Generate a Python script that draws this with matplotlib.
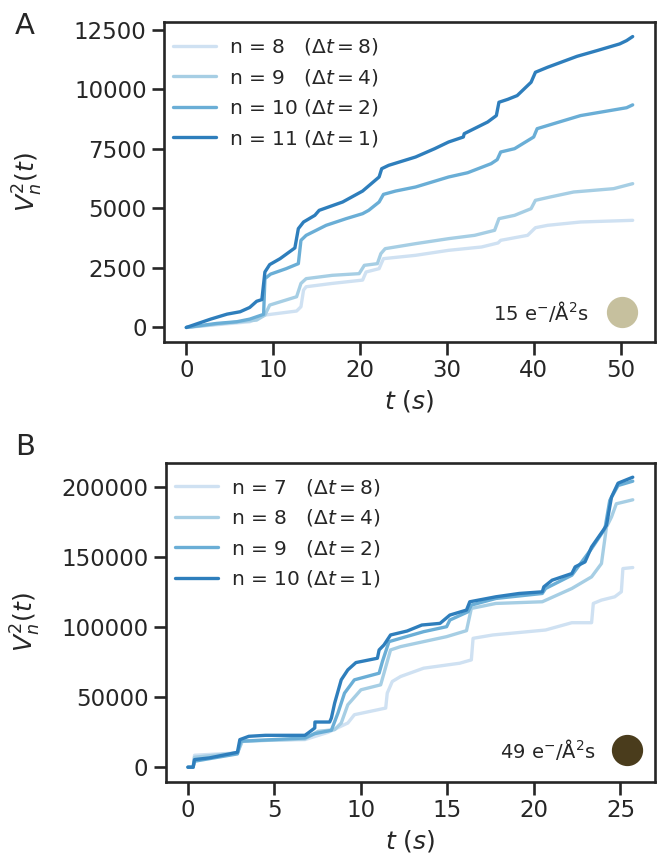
import matplotlib
matplotlib.use("Agg")
import matplotlib.pyplot as plt
import seaborn as sns

sns.set_theme(style="ticks", context="talk")
plt.rcParams['font.family'] = ['DejaVu Sans']
plt.rcParams['mathtext.fontset'] = 'dejavusans'

# ---------------- Panel A data (t in s, V^2) ----------------
a_labels = ["n = 8   $(\\Delta t=8)$", "n = 9   $(\\Delta t=4)$",
            "n = 10 $(\\Delta t=2)$", "n = 11 $(\\Delta t=1)$"]
a8_t = [0, 7.3, 9.05, 12.7, 13.2, 13.5, 13.8, 16.8, 20.3, 20.7, 22.2, 22.7, 26.4, 30.2, 34.0, 35.9, 36.2, 39.3, 40.2, 41.6, 45.4, 51.4]
a8_v = [0, 240, 520, 690, 870, 1570, 1710, 1850, 1990, 2330, 2470, 2890, 3030, 3240, 3380, 3550, 3660, 3870, 4190, 4290, 4430, 4500]
a9_t = [0, 3.5, 8.1, 9.05, 9.6, 12.7, 13.2, 13.8, 16.8, 19.9, 20.5, 22.0, 22.4, 22.9, 26.4, 30.2, 33.2, 35.5, 36.0, 37.8, 39.7, 40.2, 41.9, 44.6, 49.2, 51.4]
a9_v = [0, 140, 310, 520, 940, 1290, 1850, 2050, 2190, 2260, 2610, 2680, 3100, 3310, 3520, 3730, 3870, 4080, 4570, 4710, 4990, 5340, 5480, 5690, 5830, 6040]
a10_t = [0, 3.5, 5.8, 7.3, 8.9, 9.05, 9.7, 11.5, 12.9, 13.2, 13.8, 16.1, 18.4, 20.3, 21.0, 22.2, 22.7, 24.1, 26.4, 30.2, 32.4, 35.1, 35.8, 36.2, 37.8, 40.0, 40.4, 42.3, 45.4, 50.7, 51.4]
a10_v = [0, 170, 240, 350, 550, 2050, 2240, 2470, 2680, 3660, 3870, 4290, 4570, 4780, 4920, 5270, 5590, 5730, 5900, 6320, 6500, 6880, 7050, 7370, 7510, 8000, 8350, 8560, 8900, 9230, 9350]
a11_t = [0, 2.8, 4.7, 6.2, 7.3, 8.1, 8.7, 9.05, 9.6, 10.8, 12.5, 12.9, 13.5, 14.8, 15.3, 18.0, 20.3, 22.2, 22.5, 23.3, 26.4, 28.6, 30.2, 31.9, 32.0, 34.7, 35.7, 36.0, 37.0, 38.1, 39.7, 40.2, 41.6, 45.0, 47.3, 49.9, 50.7, 51.4]
a11_v = [0, 350, 560, 660, 840, 1100, 1170, 2330, 2640, 2890, 3340, 4150, 4430, 4710, 4920, 5270, 5730, 6320, 6670, 6810, 7160, 7510, 7790, 8000, 8140, 8630, 8900, 9460, 9580, 9740, 10300, 10720, 10930, 11390, 11630, 11910, 12050, 12220]
a_xticks = [0, 10, 20, 30, 40, 50]
a_yticks = [0, 2500, 5000, 7500, 10000, 12500]

# ---------------- Panel B data ----------------
b_labels = ["n = 7   $(\\Delta t=8)$", "n = 8   $(\\Delta t=4)$",
            "n = 9   $(\\Delta t=2)$", "n = 10 $(\\Delta t=1)$"]
b7_t = [0, 0.3, 0.38, 2.86, 3.14, 6.76, 8.1, 9.24, 9.62, 11.43, 11.52, 11.81, 12.29, 13.62, 15.71, 16.38, 16.48, 17.62, 20.67, 22.19, 23.33, 23.43, 23.9, 24.67, 25.05, 25.14, 25.71]
b7_v = [0, 0, 8520, 10180, 18940, 19650, 24850, 31480, 37400, 42130, 52780, 61070, 64620, 70540, 74090, 76460, 91840, 94210, 97760, 102960, 102960, 116690, 119060, 121430, 124980, 141550, 142260]
b8_t = [0, 0.3, 0.38, 2.86, 3.14, 6.76, 7.52, 8.48, 8.86, 9.24, 10.0, 11.14, 11.33, 11.71, 12.29, 14.95, 16.1, 16.38, 17.8, 20.48, 22.19, 23.33, 23.9, 24.19, 24.48, 24.76, 25.71]
b8_v = [0, 0, 7100, 10180, 18460, 20120, 25560, 26740, 31480, 44500, 55150, 58700, 66980, 83560, 85920, 93020, 97290, 113140, 116690, 117880, 127340, 135630, 145100, 171130, 178230, 187700, 190540]
b9_t = [0, 0.3, 0.38, 2.86, 3.05, 6.76, 7.33, 8.29, 8.67, 9.05, 9.62, 11.05, 11.24, 11.62, 13.62, 14.95, 15.14, 16.19, 16.38, 17.8, 20.48, 20.67, 22.19, 23.33, 24.1, 24.38, 24.86, 25.71]
b9_v = [0, 0, 4260, 9470, 18460, 20830, 23910, 26270, 38580, 52780, 62250, 66980, 75270, 89470, 96570, 100120, 104860, 110770, 115510, 120240, 123790, 127340, 136810, 155750, 169950, 190070, 200720, 203800]
b10_t = [0, 0.3, 0.38, 1.24, 2.4, 2.86, 3.0, 3.52, 4.48, 6.76, 6.95, 7.33, 7.34, 8.19, 8.29, 8.48, 8.86, 9.24, 9.71, 10.95, 11.05, 11.33, 11.71, 12.67, 13.52, 14.57, 15.14, 16.1, 16.29, 17.8, 19.14, 20.48, 20.57, 21.05, 22.19, 22.38, 22.95, 23.33, 24.0, 24.19, 24.48, 24.86, 25.71]
b10_v = [0, 0, 5440, 6630, 9470, 10650, 19650, 22010, 22720, 22720, 24380, 27930, 32190, 32190, 35030, 45680, 62250, 69350, 74560, 77640, 83560, 87110, 94210, 97050, 101310, 102490, 108410, 111960, 117880, 121430, 123790, 124980, 128530, 133260, 138000, 142730, 146280, 156930, 168770, 172320, 192440, 202380, 206640]
b_xticks = [0, 5, 10, 15, 20, 25]
b_yticks = [0, 50000, 100000, 150000, 200000]

colors = ['#cfe1f2', '#a6cee4', '#6aaed6', '#2e7ebc']
dark = '#262626'

fig = plt.figure(figsize=(6.57, 8.57), dpi=100)
axA = fig.add_axes([164/657, 1-342/857, 491/657, 320/857])
axB = fig.add_axes([165.7/657, 1-781.7/857, 489.3/657, 319/857])

panels = [
    (axA, [(a8_t, a8_v), (a9_t, a9_v), (a10_t, a10_v), (a11_t, a11_v)], a_labels, a_xticks, a_yticks,
     "15 e$^{-}$/Å$^{2}$s", '#c6c09e', 0.932, 0.095, 0.866, -0.243),
    (axB, [(b7_t, b7_v), (b8_t, b8_v), (b9_t, b9_v), (b10_t, b10_v)], b_labels, b_xticks, b_yticks,
     "49 e$^{-}$/Å$^{2}$s", '#4a3c1c', 0.943, 0.10, 0.879, -0.25),
]

for ax, series, labels, xt, yt, txt, ccol, cx, cy, tx, ylx in panels:
    for (t, v), lab, c in zip(series, labels, colors):
        ax.plot(t, v, color=c, lw=2.4, label=lab)
    ax.set_xticks(xt)
    ax.set_yticks(yt)
    ax.tick_params(labelsize=16.5, length=9, width=1.9, colors=dark)
    for s in ax.spines.values():
        s.set_linewidth(1.9)
        s.set_color(dark)
    ax.set_xlabel("$t\\ (s)$", fontsize=18, color=dark)
    ax.set_ylabel("$V_n^2(t)$", fontsize=18, color=dark)
    ax.yaxis.set_label_coords(ylx, 0.5)
    ax.legend(loc='upper left', bbox_to_anchor=(0.0, 0.984), frameon=False, fontsize=14.5,
              handlelength=2.15, borderaxespad=0.05, labelspacing=0.47, handletextpad=0.65)
    ax.plot([cx], [cy], 'o', ms=21.5, color=ccol, transform=ax.transAxes, clip_on=False)
    ax.text(tx, cy, txt, transform=ax.transAxes, ha='right', va='center', fontsize=14, color=dark)

fig.text(25/657, 1-26/857, "A", fontsize=21, color=dark, ha='center', va='center')
fig.text(25/657, 1-447/857, "B", fontsize=21, color=dark, ha='center', va='center')

fig.savefig("out.png", dpi=100)
